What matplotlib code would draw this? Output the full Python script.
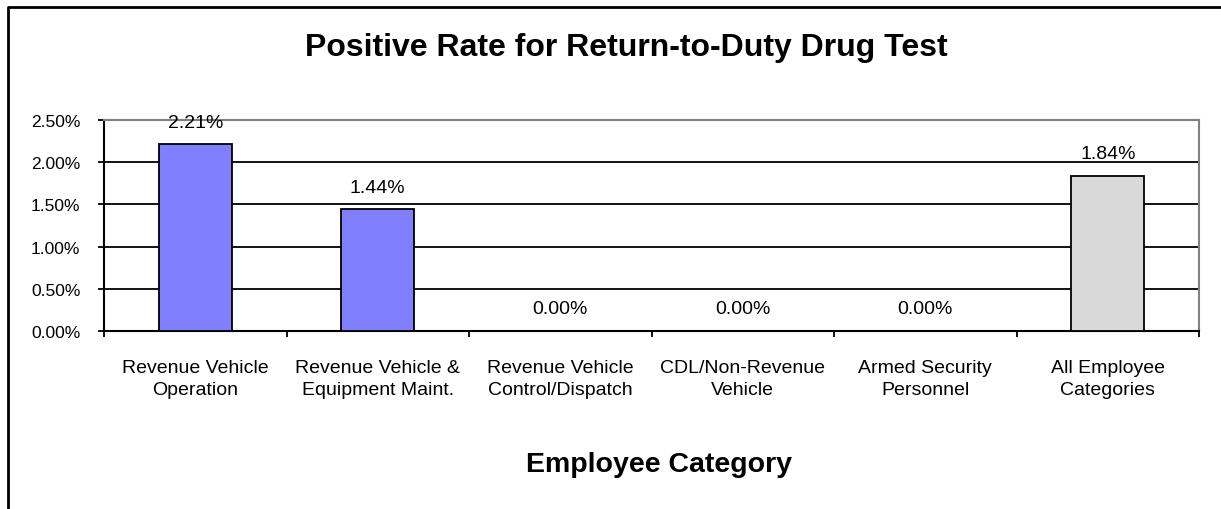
import matplotlib
matplotlib.use("Agg")
import matplotlib.pyplot as plt
from matplotlib.lines import Line2D
from matplotlib.ticker import MultipleLocator, FuncFormatter

plt.rcParams['font.family'] = ['Liberation Sans', 'DejaVu Sans']

categories = ["Revenue Vehicle\nOperation", "Revenue Vehicle &\nEquipment Maint.",
              "Revenue Vehicle\nControl/Dispatch", "CDL/Non-Revenue\nVehicle",
              "Armed Security\nPersonnel", "All Employee\nCategories"]
values = [2.21, 1.44, 0.00, 0.00, 0.00, 1.84]
colors = ["#8080FF", "#8080FF", "#8080FF", "#8080FF", "#8080FF", "#D9D9D9"]
title = "Positive Rate for Return-to-Duty Drug Test"
xlabel = "Employee Category"

W, H = 1221, 510
fig = plt.figure(figsize=(W/100, H/100), dpi=100)
ax = fig.add_axes([104/W, 1-332/H, (1199-104)/W, (332-121)/H])

x = list(range(len(values)))
ax.bar(x, values, width=0.4, color=colors, edgecolor="black", linewidth=1.3, zorder=3)
ax.set_xlim(-0.5, len(values)-0.5)
ax.set_ylim(0, 2.5)
ax.yaxis.set_major_locator(MultipleLocator(0.5))
ax.yaxis.set_major_formatter(FuncFormatter(lambda v, p: f"{v:.2f}%"))
ax.grid(axis="y", color="black", linewidth=1.3, zorder=0)
ax.set_axisbelow(True)

for xi, v in zip(x, values):
    ax.annotate(f"{v:.2f}%", (xi, v), xytext=(0, 10), textcoords="offset points",
                ha="center", va="bottom", fontsize=14)

ax.set_xticks(x)
ax.set_xticklabels(categories, fontsize=14, linespacing=1.4)
ax.tick_params(axis="x", length=0, pad=20)
ax.tick_params(axis="y", labelsize=12.5, length=4, width=1.3, pad=13)
# category boundary ticks
ax.set_xticks([i - 0.5 for i in range(len(values)+1)], minor=True)
ax.tick_params(axis="x", which="minor", length=4, width=1.3)

for s in ["left", "bottom"]:
    ax.spines[s].set_color("black")
    ax.spines[s].set_linewidth(1.5)
for s in ["top", "right"]:
    ax.spines[s].set_color("#808080")
    ax.spines[s].set_linewidth(1.5)

fig.text(626/W, 1-48/H, title, ha="center", va="center", fontsize=23, fontweight="bold")
fig.text(659/W, 1-465/H, xlabel, ha="center", va="center", fontsize=20.5, fontweight="bold")

fig.add_artist(Line2D([8/W, 8/W, 1], [0, 1-8/H, 1-8/H], transform=fig.transFigure,
                      color="black", linewidth=2))

fig.savefig("out.png", dpi=100)
